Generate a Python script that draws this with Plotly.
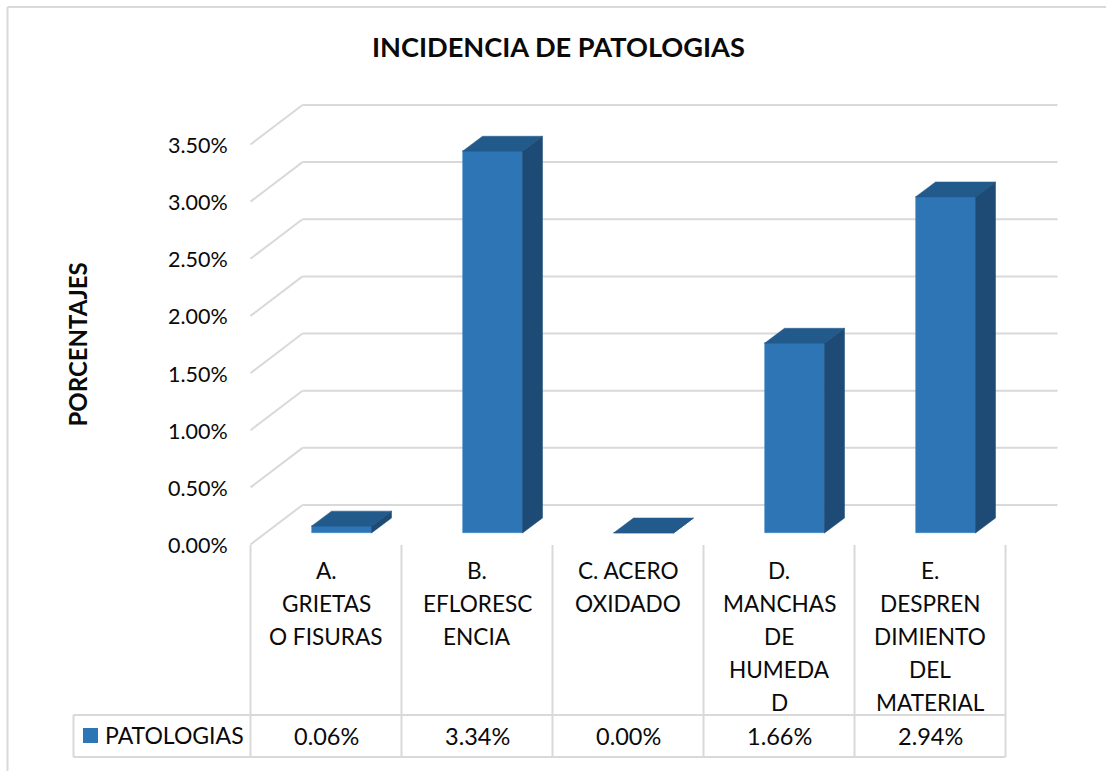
import plotly.graph_objects as go

# ---- data ----
title_text = "INCIDENCIA DE PATOLOGIAS"
y_title = "PORCENTAJES"
series_name = "PATOLOGIAS"
categories = [
    ["A.", "GRIETAS", "O FISURAS"],
    ["B.", "EFLORESC", "ENCIA"],
    ["C. ACERO", "OXIDADO"],
    ["D.", "MANCHAS", "DE", "HUMEDA", "D"],
    ["E.", "DESPREN", "DIMIENTO", "DEL", "MATERIAL"],
]
values = [0.06, 3.34, 0.00, 1.66, 2.94]
value_labels = ["0.06%", "3.34%", "0.00%", "1.66%", "2.94%"]
y_ticks = [0.0, 0.5, 1.0, 1.5, 2.0, 2.5, 3.0, 3.5]
y_tick_labels = ["0.00%", "0.50%", "1.00%", "1.50%", "2.00%", "2.50%", "3.00%", "3.50%"]

# ---- layout constants (pixels of the 1106x771 page) ----
W, H = 1106, 771
X0, CELL = 250.5, 151.0      # left edge of first category, category width
Y0, PXU = 544.5, 114.3       # y pixel of 0 %, pixels per 1 %
FONT = "Lato"
TEXT = "#0a0a0a"
GRID = "#d9d9d9"
FRONT, TOP, SIDE = "#2e75b6", "#225a8c", "#1d4b75"

def xd(px):
    return (px - X0) / CELL - 0.5

def yd(py):
    return (Y0 - py) / PXU

DX = 20 / CELL               # depth of a bar
DY = 15 / PXU
WALL_DX = 52 / CELL          # depth of the wall
WALL_DY = 39.5 / PXU
BASE = 11.5 / PXU            # bars stand part way into the floor
SHIFT = 15.5 / CELL          # and part way towards the back wall
BAR_W = 60 / CELL

fig = go.Figure()
shapes = []
annotations = []

def line(x0, y0, x1, y1, width=2):
    shapes.append(dict(type="line", xref="x", yref="y", x0=x0, y0=y0, x1=x1, y1=y1,
                       layer="below", line=dict(color=GRID, width=width)))

# chart frame (top and left edges only are visible)
line(xd(7.5), yd(7), xd(W + 5), yd(7))
line(xd(7.5), yd(7), xd(7.5), yd(H + 5))

# wall gridlines
for t in y_ticks:
    line(-0.5, t, -0.5 + WALL_DX, t + WALL_DY)
    line(-0.5 + WALL_DX, t + WALL_DY, xd(1057.5), t + WALL_DY)

# data table rules
for i in range(len(categories) + 1):
    line(i - 0.5, yd(545), i - 0.5, yd(757))
line(xd(73.5), yd(715), 4.5, yd(715))
line(xd(73.5), yd(757), 4.5, yd(757))
line(xd(73.5), yd(715), xd(73.5), yd(757))

# bars: front faces
xs = [i + SHIFT for i in range(len(values))]
fig.add_trace(go.Bar(
    x=xs, y=values, base=BASE, width=BAR_W, name=series_name, showlegend=False,
    marker=dict(color=FRONT, line=dict(color="#3f85c4", width=0.6)),
))

# bars: top and side faces
for c, v in zip(xs, values):
    l, r = c - BAR_W / 2, c + BAR_W / 2
    top = BASE + v
    fig.add_trace(go.Scatter(
        x=[l, r, r + DX, l + DX, l], y=[top, top, top + DY, top + DY, top],
        mode="lines", fill="toself", fillcolor=TOP, showlegend=False,
        line=dict(color=TOP, width=0.5), hoverinfo="skip"))
    fig.add_trace(go.Scatter(
        x=[r, r + DX, r + DX, r, r], y=[BASE, BASE + DY, top + DY, top, BASE],
        mode="lines", fill="toself", fillcolor=SIDE, showlegend=False,
        line=dict(color=SIDE, width=0.5), hoverinfo="skip"))

def text(x, y, s, size=22.6, bold=False, anchor="center", angle=0):
    annotations.append(dict(
        x=x, y=y, xref="x", yref="y", text=f"<b>{s}</b>" if bold else s, showarrow=False,
        xanchor=anchor, yanchor="middle", textangle=angle,
        font=dict(family=FONT, size=size, color=TEXT)))

# y tick labels
for t, lab in zip(y_ticks, y_tick_labels):
    text(xd(230), t + yd(545), lab, size=21.5, anchor="right")

# category labels, one line at a time (Excel line pitch)
for i, lines in enumerate(categories):
    for j, s in enumerate(lines):
        text(i, yd(570 + 33 * j), s)

# table values
for i, s in enumerate(value_labels):
    text(i, yd(736), s, size=23.5)

# legend key in table
fig.add_trace(go.Scatter(
    x=[xd(90.5)], y=[yd(735.5)], mode="markers", showlegend=False, hoverinfo="skip",
    marker=dict(symbol="square", size=15, color=FRONT, line=dict(width=0))))
text(xd(102.5), yd(735), series_name, size=23, anchor="left")

# titles
text(xd(558.5), yd(46.5), title_text, size=27.2, bold=True)
text(xd(76.5), yd(345), y_title, size=24, bold=True, angle=-90)

fig.update_layout(
    width=W, height=H, margin=dict(l=0, r=0, t=0, b=0),
    paper_bgcolor="white", plot_bgcolor="white",
    showlegend=False, shapes=shapes, annotations=annotations, bargap=0,
    xaxis=dict(range=[xd(0), xd(W)], visible=False, fixedrange=True),
    yaxis=dict(range=[yd(H), yd(0)], visible=False, fixedrange=True),
)
fig.write_html("out.html", config={"displayModeBar": False},
               post_script="document.body.style.margin='0';document.documentElement.style.overflow='hidden';")
